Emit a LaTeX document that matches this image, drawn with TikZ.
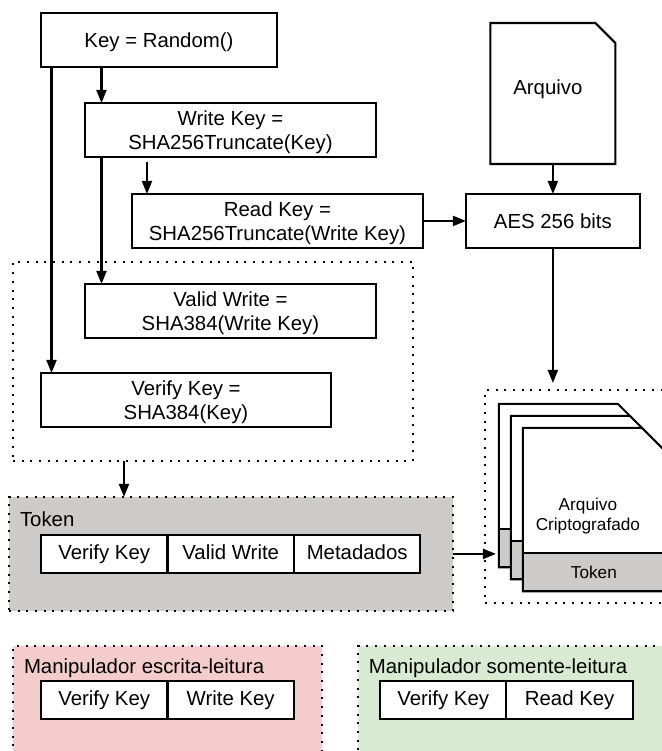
\documentclass[tikz,border=0pt]{standalone}
\usepackage{fontspec}
\setmainfont{Liberation Sans}
\usepackage{xcolor}
\usepackage{tikz}
\usetikzlibrary{positioning}
\usetikzlibrary{arrows.meta}
\definecolor{tokengray}{HTML}{CCCBC9}
\definecolor{writered}{HTML}{F4CCCC}
\definecolor{readgreen}{HTML}{D9EAD3}
\tikzset{
  every node/.style={
    font=\fontsize{11.6}{13.7}\selectfont,
    align=center,
    inner sep=0pt,
    outer sep=0pt,
  },
  keybox/.style={
    draw,
    fill=white,
    line width=0.042cm,
    minimum width={#1},
    minimum height=1.08cm,
    text depth=0pt,
  },
  cellbox/.style={
    draw,
    fill=white,
    line width=0.042cm,
    minimum width=2.53cm,
    minimum height=0.76cm,
    text height=0.3cm,
    text depth=0.072cm,
  },
  dotted region/.style={
    line width=0.04cm,
    draw,
    dash pattern=on 0.04cm off 0.134cm,
    anchor=north west,
  },
  region label/.style={
    anchor=west,
  },
  sheet/.style={
    draw,
    fill=white,
    line width=0.042cm,
  },
  sheet band/.style={
    draw,
    fill=tokengray,
    line width=0.042cm,
  },
  small text/.style={
    font=\fontsize{9.8}{11.4}\selectfont,
  },
  flow/.style={
    line width=0.042cm,
    -{Triangle[length=0.26cm,width=0.2cm]},
  },
}
\begin{document}
\begin{tikzpicture}[x=0.02cm,y=-0.02cm,node distance=0pt]
    \useasboundingbox (0,0) rectangle (662,751);

    \node [keybox=4.72cm, anchor=north west] (key) at (41,13) {Key = Random()};
    \node [keybox=5.82cm, below=0.72cm of key.south west, anchor=north west, xshift=0.88cm] (writekey) {Write Key =\\SHA256Truncate(Key)};
    \node [keybox=5.82cm, below=0.74cm of writekey.south west, anchor=north west, xshift=0.94cm] (readkey) {Read Key =\\SHA256Truncate(Write Key)};
    \node [keybox=5.82cm, below=2.54cm of writekey.south west, anchor=north west] (validwrite) {Valid Write =\\SHA384(Write Key)};
    \node [keybox=5.8cm, below=0.7cm of validwrite.south west, anchor=north west, xshift=-0.88cm] (verifykey) {Verify Key =\\SHA384(Key)};
    \node [dotted region, minimum width=8cm, minimum height=3.98cm, anchor=south west] (keygroup) at ([xshift=-0.56cm,yshift=-0.68cm]verifykey.south west) {};

    \node [keybox=3.48cm, right=0.86cm of readkey] (aes) {AES 256 bits};
    \node [minimum width=2.5cm, minimum height=2.82cm, above=0.6cm of aes] (file) {};
    \draw [sheet] (file.south west) -- (file.north west) -- ([xshift=-0.4cm]file.north east) -- ([yshift=-0.4cm]file.north east) -- (file.south east) -- cycle;
    \node [xshift=-0.1cm, yshift=0.09cm] (filelabel) at (file.center) {Arquivo};

    % token
    \node [dotted region, fill=tokengray, minimum width=8.88cm, minimum height=2.28cm, below=0.72cm of keygroup.south west, anchor=north west, xshift=-0.08cm] (token) {};
    \node [region label] (tokenlabel) at ([xshift=0.22cm,yshift=-0.44cm]token.north west) {Token};
    \node [cellbox, anchor=north west] (t1) at ([xshift=0.64cm,yshift=-0.76cm]token.north west) {Verify Key};
    \node [cellbox, right=of t1] (t2) {Valid Write};
    \node [cellbox, right=of t2] (t3) {Metadados};

    % manipuladores
    \node [dotted region, fill=writered, minimum width=6.18cm, minimum height=2.2cm, below=0.7cm of token.south west, anchor=north west, xshift=0.08cm] (rw) {};
    \node [region label] (rwlabel) at ([xshift=0.22cm,yshift=-0.44cm]rw.north west) {Manipulador escrita-leitura};
    \node [cellbox, anchor=north west] (rw1) at ([xshift=0.56cm,yshift=-0.7cm]rw.north west) {Verify Key};
    \node [cellbox, right=of rw1] (rw2) {Write Key};

    \node [dotted region, fill=readgreen, minimum width=6.4cm, minimum height=2.2cm, right=0.72cm of rw.north east, anchor=north west] (ro) {};
    \node [region label] (rolabel) at ([xshift=0.22cm,yshift=-0.44cm]ro.north west) {Manipulador somente-leitura};
    \node [cellbox, anchor=north west] (ro1) at ([xshift=0.44cm,yshift=-0.7cm]ro.north west) {Verify Key};
    \node [cellbox, right=of ro1] (ro2) {Read Key};

    % arquivos criptografados
    \node [dotted region, minimum width=4cm, minimum height=4.26cm, below=2.84cm of aes.south west, anchor=north west, xshift=0.38cm] (stack) {};
    \coordinate (sheet1) at ([xshift=0.28cm,yshift=-0.28cm]stack.north west);
    \coordinate (sheet2) at ([shift={(12,12)}]sheet1);
    \coordinate (sheet3) at ([shift={(12,12)}]sheet2);
    \draw [sheet] (sheet1) -- ++(119,0) -- ++(61,61) -- ++(0,102.5) -- ++(-180,0) -- cycle;
    \draw [sheet band] ([shift={(0,125)}]sheet1) rectangle ([shift={(180,163.5)}]sheet1);
    \draw [sheet] (sheet2) -- ++(119,0) -- ++(61,61) -- ++(0,102.5) -- ++(-180,0) -- cycle;
    \draw [sheet band] ([shift={(0,125)}]sheet2) rectangle ([shift={(180,163.5)}]sheet2);
    \draw [sheet] (sheet3) -- ++(119,0) -- ++(61,61) -- ++(0,102.5) -- ++(-180,0) -- cycle;
    \node [sheet band, small text, minimum width=2.84cm, minimum height=0.77cm, anchor=north west] (sheetband) at ([shift={(0,125)}]sheet3) {Token};
    \node [small text] (sheetlabel) at ([shift={(65,88)}]sheet3) {Arquivo\\Criptografado};

    \draw [flow] ([xshift=1.21cm]key.south west) -- ([xshift=1.21cm]key.south west |- writekey.north);
    \draw [flow] ([xshift=0.21cm]key.south west) -- ([xshift=0.21cm]key.south west |- verifykey.north);
    \draw [flow] ([xshift=0.33cm]writekey.south west) -- ([xshift=0.33cm]writekey.south west |- validwrite.north);
    \draw [flow, shorten <=0.1cm] ([xshift=1.24cm]writekey.south west) -- ([xshift=1.24cm]writekey.south west |- readkey.north);
    \draw [flow] (readkey) -- (aes);
    \draw [flow] (file) -- (aes);
    \draw [flow, shorten >=0.14cm] (aes) -- (aes.south |- stack.north);
    \draw [flow] ([xshift=2.22cm]keygroup.south west) -- ([xshift=2.22cm]keygroup.south west |- token.north);
    \draw [flow, shorten >=0.06cm] (token.east) -- (token.east -| sheet1);
\end{tikzpicture}
\end{document}
